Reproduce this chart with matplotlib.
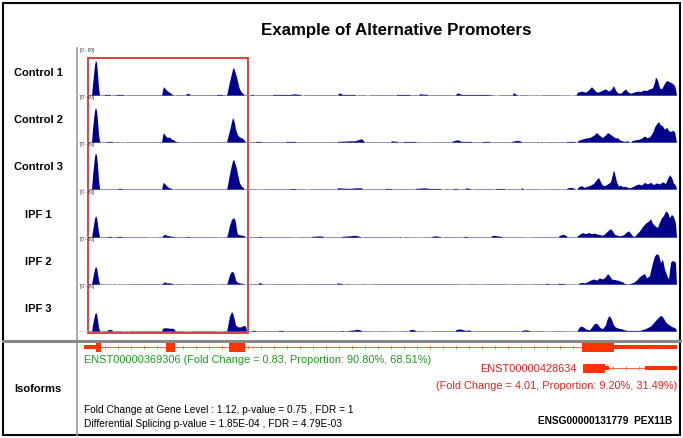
import matplotlib
matplotlib.use("Agg")
import matplotlib.pyplot as plt
from matplotlib.patches import Rectangle

plt.rcParams['font.family'] = ['Liberation Sans', 'DejaVu Sans']

W, H = 683, 438

track_names = ['Control 1', 'Control 2', 'Control 3', 'IPF 1', 'IPF 2', 'IPF 3']
data_range = '[0 - 80]'

# coverage, (genomic position, read depth) -- position given on browser scale
cov_control1 = [(88,0),(92,0),(93,20),(95,55),(96,64),(97,60),(98,40),(99,15),(100,2),(101,0),
    (104,0),(104.5,2),(111,2),(111.5,0),(116,0),(116.5,2),(124,2),(124.5,0),
    (162,0),(163,10),(164,16),(166,12),(168,8),(170,6),(172,3),(174,1),(175,0),
    (186,0),(187,4),(190,3),(191,0),(216,0),(217,2),(223,2),(224,0),
    (227,0),(228,8),(230,25),(232,40),(233,48),(234,51),(235,46),(236,40),(237,34),(238,26),(239,18),(240,12),(242,6),(244,3),(245,0),
    (250,0),(251,2),(254,2),(255,0),(272,0),(273,2),(290,2),(295,3),(300,2),(305,0),(337,0),(340,5),(343,2),(355,2),(358,0),
    (366,0),(367,1),(370,0),(395,0),(397,2),(410,2),(412,0),(418,0),(420,3),(428,2),(430,0),(455,0),(458,5),(462,2),(480,2),
    (488,2),(495,1),(500,0),(512,0),(514,5),(517,2),(520,0),(528,0),(530,1),(540,1),(542,0),(560,0),(562,1),(570,1),
    (576,0),(578,6),(582,8),(586,6),(589,10),(592,16),(594,12),(597,6),(600,7),(603,10),(606,12),(609,8),(612,12),(614,18),
    (616,10),(618,5),(621,4),(624,9),(626,12),(628,7),(631,4),(634,6),(638,8),(641,7),(644,10),(647,9),(650,12),(653,14),
    (655,24),(656,34),(658,28),(660,14),(662,12),(665,22),(667,27),(669,26),(671,24),(673,22),(675,18),(676,12),(677,0)]

cov_control2 = [(88,0),(92,0),(93,25),(95,58),(96,64),(97,58),(98,40),(99,15),(100,3),(101,0),
    (106,0),(107,2),(113,2),(114,0),(120,0),(121,1),(125,1),(126,0),
    (162,0),(163,12),(164,18),(166,12),(168,9),(170,10),(172,6),(174,5),(176,2),(180,1),(190,1),(191,0),
    (227,0),(228,8),(230,22),(232,38),(233,45),(234,42),(235,35),(236,24),(238,14),(240,10),(243,8),(245,4),(246,0),
    (255,0),(256,2),(262,2),(263,0),(285,0),(286,2),(296,2),(297,0),(336,0),(338,2),(350,3),(355,3),(362,7),(364,3),(366,0),
    (390,0),(392,3),(398,2),(400,0),(402,0),(404,2),(416,2),(418,0),(422,0),(423,1),(430,1),(431,0),(450,0),(452,2),(458,5),
    (462,2),(472,2),(474,0),(480,0),(483,2),(490,2),(492,0),(510,0),(512,2),(518,4),(522,2),(524,0),(540,0),(542,2),(545,0),
    (566,0),(567,2),(575,2),
    (577,0),(579,4),(582,6),(586,8),(590,9),(594,13),(597,18),(600,13),(603,9),(606,14),(608,18),(610,16),(613,12),(616,8),
    (618,9),(620,5),(623,3),(626,2),(628,4),(629,0),(631,0),(632,3),(636,5),(640,6),(643,9),(645,12),(647,9),(650,10),
    (653,18),(655,28),(657,34),(659,38),(661,32),(663,30),(665,24),(667,28),(669,22),(671,20),(673,22),(675,20),(677,0)]

cov_control3 = [(88,0),(92,0),(93,25),(95,60),(96,67),(97,62),(98,45),(99,18),(100,3),(101,0),
    (117,0),(118,2),(123,2),(124,0),
    (162,0),(163,9),(164,13),(166,9),(168,5),(170,3),(172,2),(174,0),
    (227,0),(228,8),(230,28),(232,45),(233,52),(234,55),(235,50),(236,44),(237,38),(238,28),(239,20),(240,12),(242,6),(244,3),(245,0),
    (257,0),(258,1),(262,1),(263,0),(290,0),(291,2),(296,2),(297,0),(305,0),(306,1),(310,0),(336,0),(338,3),(350,2),(356,3),
    (362,3),(364,0),(384,0),(386,2),(392,2),(394,0),(414,0),(416,2),(425,3),(430,2),(440,2),(445,0),(452,0),(454,2),(458,2),
    (460,0),(465,0),(466,3),(470,2),(474,0),(494,0),(497,2),(505,2),(507,0),(520,0),(522,3),(526,0),(540,0),(542,1),(548,1),
    (550,0),(566,0),(568,3),(572,4),(575,2),
    (577,0),(579,5),(582,7),(585,4),(588,6),(591,8),(594,11),(597,18),(599,22),(601,14),(603,8),(605,7),(608,10),(611,14),
    (613,28),(614,36),(615,30),(617,14),(619,6),(621,8),(623,5),(626,6),(628,4),(630,3),(633,5),(636,8),(639,10),(642,8),
    (645,13),(648,10),(651,13),(654,9),(657,12),(660,10),(663,14),(666,11),(668,20),(670,27),(672,22),(674,12),(676,8),(677,0)]

cov_ipf1 = [(88,0),(92,0),(93,12),(95,34),(96,40),(97,36),(98,25),(99,10),(100,2),(101,0),
    (107,0),(108,2),(112,2),(113,0),(116,0),(117,2),(123,2),(124,0),(150,0),(151,1),(156,1),(157,0),
    (162,0),(163,3),(165,6),(167,4),(170,3),(172,2),(175,2),(176,0),(186,0),(187,2),(190,2),(191,0),(218,0),(219,1),(223,1),(224,0),
    (227,0),(228,6),(230,22),(232,33),(234,36),(235,34),(236,28),(237,14),(238,6),(240,5),(243,4),(245,3),(246,0),
    (258,0),(259,2),(262,2),(263,0),(292,0),(293,1),(298,1),(299,0),(310,0),(312,2),(320,3),(324,2),(326,0),(340,0),(342,2),
    (350,3),(356,4),(360,2),(364,0),(398,0),(400,2),(404,0),(410,0),(412,1),(420,1),(424,0),(430,0),(432,2),(436,3),(440,2),
    (444,0),(462,0),(464,2),(468,2),(470,0),(490,0),(492,3),(495,4),(498,3),(502,2),(505,0),(512,0),(513,2),(516,0),(524,0),
    (526,1),(530,1),(532,0),(558,0),(560,4),(564,6),(567,3),(568,0),
    (576,0),(578,3),(580,6),(583,9),(586,7),(589,9),(592,7),(595,8),(598,6),(601,5),(603,4),(606,8),(608,12),(611,16),
    (613,12),(615,6),(618,4),(621,3),(624,5),(627,10),(629,12),(631,8),(633,3),(635,2),(637,6),(640,12),(643,20),(646,26),
    (649,30),(651,34),(653,26),(655,22),(658,18),(660,28),(662,36),(664,40),(666,48),(668,46),(670,36),(672,42),(674,38),
    (676,26),(677,0)]

cov_ipf2 = [(88,0),(92,0),(93,10),(95,28),(96,33),(97,30),(98,20),(99,8),(100,2),(101,0),
    (105,0),(106,1),(112,1),(113,0),(116,0),(117,1),(128,1),(129,0),
    (160,0),(161,1),(163,2),(165,5),(167,3),(170,3),(173,2),(175,1),(176,0),(186,0),(187,1),(190,1),(191,0),(215,0),(216,1),(220,1),(221,0),
    (227,0),(228,5),(230,18),(232,24),(234,22),(235,16),(236,8),(238,4),(240,3),(243,2),(245,1),(246,0),
    (258,0),(259,3),(262,3),(263,0),(265,0),(266,1),(272,1),(273,0),(300,0),(301,1),(306,1),(307,0),(336,0),(338,3),(342,2),
    (345,0),(350,0),(351,1),(360,1),(361,0),(366,0),(367,1),(372,1),(373,0),(460,0),(462,1),(468,1),(469,0),(478,0),(479,1),
    (483,1),(484,0),(507,0),(508,1),(512,1),(513,0),(524,0),(525,1),(532,1),(533,0),(545,0),(546,2),(549,2),(550,0),(557,0),
    (558,2),(565,2),(566,0),(570,0),(571,1),(576,1),
    (577,0),(579,2),(582,4),(585,3),(588,5),(591,8),(594,10),(597,8),(600,12),(603,10),(606,14),(608,20),(610,16),(612,10),
    (615,9),(618,8),(621,6),(623,5),(625,2),(628,1),(631,2),(634,4),(637,8),(640,14),(643,18),(645,20),(647,12),(650,16),
    (653,40),(655,52),(657,56),(659,54),(661,40),(663,46),(665,28),(667,18),(669,10),(671,40),(673,44),(675,42),(676,40),(677,0)]

cov_ipf3 = [(88,0),(92,0),(93,12),(95,30),(96,35),(97,32),(98,22),(99,8),(100,2),(101,0),
    (107,0),(108,3),(111,4),(113,2),(114,0),(123,0),(124,1),(128,1),(129,0),
    (162,0),(163,6),(166,7),(170,6),(173,6),(175,4),(176,0),(185,0),(186,1),(190,1),(191,0),(217,0),(218,1),(222,1),(223,0),
    (227,0),(228,8),(230,28),(232,36),(233,34),(234,28),(235,20),(236,12),(238,9),(240,8),(242,9),(244,11),(246,10),(247,0),
    (251,0),(252,2),(256,2),(257,0),(278,0),(279,2),(284,2),(285,0),(340,0),(341,2),(346,1),(350,2),(355,3),(358,4),(362,2),
    (364,0),(372,0),(373,1),(378,1),(379,0),(388,0),(389,1),(395,1),(400,1),(401,0),(408,0),(410,3),(413,4),(416,2),(418,0),
    (424,0),(425,1),(430,1),(431,0),(455,0),(456,3),(460,5),(464,3),(466,2),(470,3),(473,0),(520,0),(522,2),(526,3),(530,2),
    (532,0),(545,0),(546,1),(552,1),(553,0),(566,0),(567,1),(575,1),
    (577,0),(579,6),(581,10),(584,8),(587,4),(590,3),(593,10),(595,15),(598,14),(600,8),(603,5),(606,12),(608,25),(610,29),
    (612,22),(614,12),(616,8),(619,6),(622,5),(625,3),(628,2),(632,2),(636,2),(640,2),(644,4),(648,7),(651,10),(654,16),
    (657,22),(660,28),(662,29),(664,24),(666,18),(668,14),(670,12),(672,9),(674,8),(676,6),(677,0)]

coverage = [cov_control1, cov_control2, cov_control3, cov_ipf1, cov_ipf2, cov_ipf3]

# isoform structures: (start, end, kind)  kind: 'exon' full, 'utr' half height
iso1_blocks = [(84, 96, 'utr'), (96, 101, 'exon'), (166, 175, 'exon'), (229, 245, 'exon'),
               (582, 614, 'exon'), (614, 677, 'utr')]
iso1_span = (84, 677)
iso2_blocks = [(583, 605, 'exon'), (605, 609, 'utr'), (645, 677, 'utr')]
iso2_intron = (605, 645)

iso1_label = 'ENST00000369306 (Fold Change = 0.83, Proportion: 90.80%, 68.51%)'
iso2_name = 'ENST00000428634'
iso2_label = '(Fold Change = 4.01, Proportion: 9.20%, 31.49%)'
gene_line1 = 'Fold Change at Gene Level : 1.12, p-value = 0.75 , FDR = 1'
gene_line2 = 'Differential Splicing p-value = 1.85E-04 , FDR = 4.79E-03'
gene_id = 'ENSG00000131779  PEX11B'

navy = '#00008B'
red = '#FF3300'

fig = plt.figure(figsize=(W / 100, H / 100), dpi=100)
bg = fig.add_axes([0, 0, 1, 1])
bg.set_xlim(0, W)
bg.set_ylim(H, 0)
bg.axis('off')

def fig_rect(x0, y0, x1, y1):
    return [x0 / W, 1 - y1 / H, (x1 - x0) / W, (y1 - y0) / H]

# frame
bg.add_patch(Rectangle((3, 3), 677, 432, fill=False, ec='black', lw=1.5))
bg.plot([77, 77], [48, 435], color='#999999', lw=1.2)
bg.plot([3, 680], [340.5, 340.5], color='#888888', lw=2.2)

bg.text(396, 30, 'Example of Alternative Promoters', ha='center', va='center',
        fontsize=12.2, fontweight='bold')

baselines = [96, 143, 190, 238, 285, 332]
for name, cov, base in zip(track_names, coverage, baselines):
    ax = fig.add_axes(fig_rect(77, base - 44, 677, base))
    ax.set_xlim(77, 677)
    ax.set_ylim(0, 80)
    ax.axis('off')
    xs = [p for p, v in cov]
    ys = [v for p, v in cov]
    ax.axhline(0, color='#d0d0d0', lw=1.2, zorder=1)
    ax.fill_between(xs, 0.6, ys, color=navy, lw=0, ec='none', zorder=2)
    ax.text(80, 82, data_range, fontsize=3.3, ha='left', va='center', color='#333333')
    bg.text(38, base - 23, name, ha='center', va='center', fontsize=8, fontweight='bold')

# red highlight box
bg.add_patch(Rectangle((88, 57.5), 160, 275.5, fill=False, ec='#D43535', lw=1.3, zorder=5))

# isoforms panel
iso = fig.add_axes(fig_rect(77, 341, 677, 435))
iso.set_xlim(77, 677)
iso.set_ylim(435, 341)
iso.axis('off')

def draw_isoform(ax, span, blocks, yc):
    ax.plot(span, [yc, yc], color='#FF6040', lw=0.7, zorder=2)
    for s, e, kind in blocks:
        h = 9 if kind == 'exon' else 4.5
        ax.add_patch(Rectangle((s, yc - h / 2), e - s, h, color=red, lw=0, zorder=3))
    ticks = list(range(span[0] + 8, span[1] - 4, 13))
    ax.plot(ticks, [yc] * len(ticks), ls='none', marker=r'$\rangle$', ms=2.6,
            mew=0.2, color='#FF6040', zorder=2)

draw_isoform(iso, iso1_span, iso1_blocks, 347)
draw_isoform(iso, iso2_intron, iso2_blocks, 368)

iso.text(84, 360, iso1_label, fontsize=7.9, color='#229922', va='center', ha='left')
iso.text(577, 369, iso2_name, fontsize=7.9, color='#DD2222', va='center', ha='right')
iso.text(677, 386, iso2_label, fontsize=7.9, color='#DD2222', va='center', ha='right')
iso.text(84, 410, gene_line1, fontsize=7.3, va='center', ha='left')
iso.text(84, 424, gene_line2, fontsize=7.3, va='center', ha='left')
iso.text(672, 421, gene_id, fontsize=7.3, va='center', ha='right', fontweight='bold')
bg.text(38, 389, 'Isoforms', ha='center', va='center', fontsize=8, fontweight='bold')

fig.savefig('out.png', dpi=100)
plt.close(fig)
